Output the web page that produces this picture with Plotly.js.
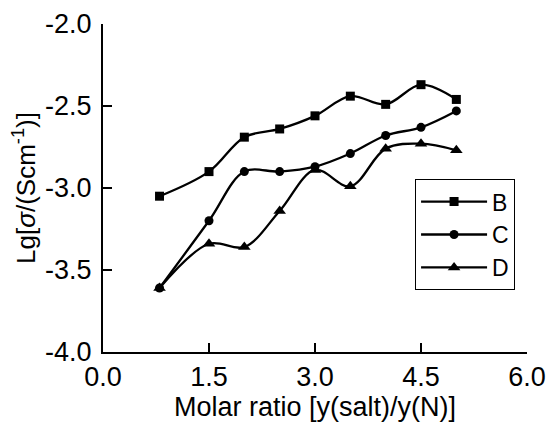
<!DOCTYPE html>
<html>
<head>
<meta charset="utf-8">
<script src="https://cdn.plot.ly/plotly-3.0.1.min.js"></script>
<style>html,body{margin:0;padding:0;background:#fff;}#chart{width:548px;height:425px;}</style>
</head>
<body>
<div id="chart"></div>
<script>
const molarRatio = [0.8, 1.5, 2.0, 2.5, 3.0, 3.5, 4.0, 4.5, 5.0];
const seriesB = [-3.05, -2.90, -2.69, -2.64, -2.56, -2.44, -2.49, -2.37, -2.46];
const seriesC = [-3.61, -3.20, -2.90, -2.90, -2.87, -2.79, -2.68, -2.63, -2.53];
const seriesD = [-3.61, -3.34, -3.36, -3.14, -2.89, -2.99, -2.76, -2.73, -2.77];
const xTickVals = [0, 1.5, 3.0, 4.5, 6.0];
const xTickText = ["0.0", "1.5", "3.0", "4.5", "6.0"];
const yTickVals = [-4.0, -3.5, -3.0, -2.5, -2.0];
const yTickText = ["-4.0", "-3.5", "-3.0", "-2.5", "-2.0"];

const font = "'Liberation Sans', Arial, sans-serif";
function tr(name, y, symbol, size) {
  return {
    x: molarRatio, y: y, name: name, type: 'scatter', mode: 'lines+markers',
    line: {color: '#000', width: 2.3, shape: 'spline', smoothing: 1},
    marker: {symbol: symbol, size: size, color: '#000'}
  };
}
const data = [
  tr('B', seriesB, 'square', 9),
  tr('C', seriesC, 'circle', 9),
  tr('D', seriesD, 'triangle-up', 11)
];
const layout = {
  width: 548, height: 425,
  margin: {l: 103, r: 21, t: 24, b: 73},
  paper_bgcolor: '#fff', plot_bgcolor: '#fff',
  font: {family: font, size: 26, color: '#000'},
  showlegend: true,
  legend: {x: 0.736, y: 0.527, xanchor: 'left', yanchor: 'top',
    bordercolor: '#000', borderwidth: 1, bgcolor: '#fff',
    font: {family: font, size: 23, color: '#000'}, itemwidth: 66, tracegroupgap: 0},
  xaxis: {range: [0, 6], tickvals: xTickVals, ticktext: xTickText,
    ticks: 'inside', ticklen: 9, tickwidth: 1.5, tickcolor: '#000',
    showline: true, linecolor: '#000', linewidth: 2, showgrid: false, zeroline: false,
    tickfont: {family: font, size: 27},
    title: {text: 'Molar ratio [y(salt)/y(N)]', font: {family: font, size: 27}, standoff: 1}},
  yaxis: {range: [-4, -2], tickvals: yTickVals, ticktext: yTickText,
    ticks: 'inside', ticklen: 9, tickwidth: 1.5, tickcolor: '#000',
    showline: true, linecolor: '#000', linewidth: 2, showgrid: false, zeroline: false,
    tickfont: {family: font, size: 27}, ticklabelstandoff: 4,
    title: {text: 'Lg[<i>σ</i>/(Scm<sup>-1</sup>)]', font: {family: font, size: 26}, standoff: 2}}
};
Plotly.newPlot('chart', data, layout, {displayModeBar: false, staticPlot: true});
</script>
</body>
</html>
